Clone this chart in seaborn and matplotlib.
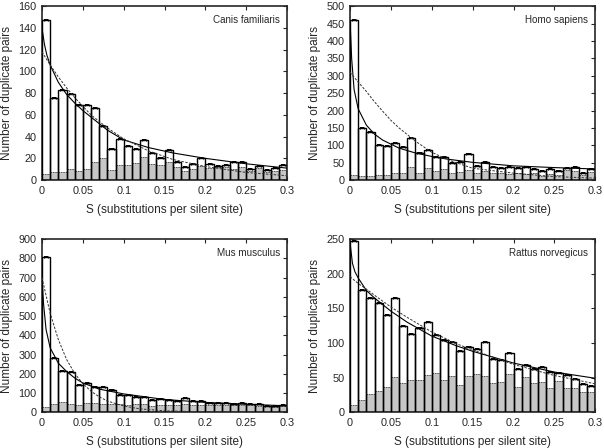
import numpy as np
import pandas as pd
import matplotlib
matplotlib.use("Agg")
import matplotlib.pyplot as plt
import seaborn as sns

# ==========================================
# Data
# ==========================================

# histogram bins of S (width 0.01, 0 .. 0.3)
s_edges = [round(0.01 * k, 2) for k in range(31)]
s_mid = [round(0.005 + 0.01 * k, 3) for k in range(30)]

species = ["Canis familiaris", "Homo sapiens", "Mus musculus", "Rattus norvegicus"]
y_max = [160, 500, 900, 250]
y_step = [20, 50, 100, 50]

# all duplicate pairs (white bars)
canis_all = [147, 76, 83, 79, 69, 69, 66, 50, 29, 38, 31, 29, 37, 25, 20,
             28, 17, 12, 15, 20, 15, 13, 14, 17, 17, 10, 13, 9, 11, 14]
homo_all = [460, 150, 137, 101, 98, 106, 94, 120, 79, 87, 65, 67, 50, 52, 74,
            41, 53, 39, 34, 38, 36, 38, 32, 26, 31, 27, 34, 37, 21, 31]
mus_all = [805, 281, 215, 207, 143, 150, 133, 129, 117, 91, 88, 81, 79, 64, 67,
           62, 57, 74, 59, 57, 50, 47, 48, 45, 47, 43, 45, 33, 30, 36]
rattus_all = [247, 176, 165, 158, 141, 165, 124, 113, 122, 131, 112, 104, 102, 88, 94,
              91, 102, 77, 75, 86, 62, 68, 62, 65, 58, 56, 54, 48, 41, 38]

# subset (grey bars)
canis_sub = [6, 7, 7, 10, 8, 10, 17, 20, 9, 14, 14, 16, 21, 15, 14,
             17, 12, 8, 10, 13, 11, 12, 12, 10, 12, 8, 11, 7, 8, 9]
homo_sub = [16, 12, 12, 14, 16, 20, 20, 37, 20, 34, 26, 32, 20, 24, 30,
            20, 25, 20, 20, 18, 20, 18, 20, 12, 18, 15, 28, 25, 15, 22]
mus_sub = [25, 40, 55, 40, 35, 48, 50, 45, 40, 45, 35, 40, 40, 30, 35,
           35, 35, 40, 35, 35, 35, 35, 35, 35, 35, 35, 30, 30, 25, 30]
rattus_sub = [10, 18, 26, 30, 36, 51, 42, 47, 46, 54, 56, 46, 52, 39, 52,
              55, 52, 42, 43, 55, 36, 51, 42, 43, 35, 45, 35, 35, 29, 29]

# fitted curves (solid and dashed)
canis_solid_s = [0, 0.003, 0.006, 0.01, 0.02, 0.03, 0.04, 0.05, 0.06, 0.08, 0.1, 0.13, 0.16, 0.2, 0.25, 0.3]
canis_solid_y = [140, 125, 115, 106, 90, 79, 71, 64, 58, 46, 37, 30, 25, 20, 15, 11]
canis_dash_s = [0, 0.01, 0.02, 0.03, 0.04, 0.05, 0.06, 0.08, 0.1, 0.13, 0.16, 0.2, 0.25, 0.3]
canis_dash_y = [118, 106, 95, 85, 76, 68, 60, 48, 38, 27, 19, 12.5, 7, 4]

homo_solid_s = [0, 0.002, 0.005, 0.01, 0.02, 0.03, 0.04, 0.06, 0.08, 0.1, 0.12, 0.15, 0.2, 0.25, 0.3]
homo_solid_y = [460, 350, 260, 205, 158, 132, 115, 92, 78, 68, 60, 51, 41, 36, 32]
homo_dash_s = [0, 0.01, 0.02, 0.03, 0.04, 0.05, 0.06, 0.08, 0.1, 0.12, 0.15, 0.2, 0.25, 0.3]
homo_dash_y = [310, 282, 255, 225, 198, 172, 150, 112, 80, 58, 34, 20, 10, 5.5]

mus_solid_s = [0, 0.002, 0.005, 0.01, 0.02, 0.03, 0.04, 0.05, 0.07, 0.1, 0.15, 0.2, 0.25, 0.3]
mus_solid_y = [700, 560, 430, 335, 255, 212, 178, 152, 120, 95, 66, 51, 41, 33]
mus_dash_s = [0, 0.01, 0.02, 0.03, 0.04, 0.05, 0.06, 0.07, 0.08, 0.1, 0.12, 0.15, 0.2, 0.3]
mus_dash_y = [700, 515, 378, 275, 202, 148, 109, 80, 58, 32, 17, 7, 1.5, 0]

rattus_solid_s = [0, 0.003, 0.006, 0.01, 0.02, 0.03, 0.05, 0.07, 0.1, 0.13, 0.15, 0.2, 0.25, 0.3]
rattus_solid_y = [245, 215, 203, 194, 176, 165, 146, 130, 110, 96, 88, 71, 58, 49]
rattus_dash_s = [0, 0.01, 0.02, 0.03, 0.05, 0.07, 0.1, 0.13, 0.15, 0.2, 0.25, 0.3]
rattus_dash_y = [196, 186, 178, 169, 152, 137, 116, 99, 90, 69, 53, 41]

all_counts = [canis_all, homo_all, mus_all, rattus_all]
sub_counts = [canis_sub, homo_sub, mus_sub, rattus_sub]
solid_curves = [(canis_solid_s, canis_solid_y), (homo_solid_s, homo_solid_y),
                (mus_solid_s, mus_solid_y), (rattus_solid_s, rattus_solid_y)]
dash_curves = [(canis_dash_s, canis_dash_y), (homo_dash_s, homo_dash_y),
               (mus_dash_s, mus_dash_y), (rattus_dash_s, rattus_dash_y)]

# ==========================================
# Style
# ==========================================
sns.set_theme(style="ticks")
plt.rcParams["font.family"] = ["Liberation Sans", "DejaVu Sans"]
plt.rcParams.update({
    "font.size": 8,
    "axes.linewidth": 1.2,
    "xtick.direction": "in",
    "ytick.direction": "in",
    "xtick.major.size": 3,
    "ytick.major.size": 3,
})

fig = plt.figure(figsize=(6.04, 4.48), dpi=100)
# axes boxes in figure fractions (left, bottom, width, height)
boxes = [
    (0.0695, 0.598, 0.406, 0.388),
    (0.5795, 0.598, 0.406, 0.388),
    (0.0695, 0.080, 0.406, 0.386),
    (0.5795, 0.080, 0.406, 0.386),
]

for i, name in enumerate(species):
    ax = fig.add_axes(boxes[i])
    df = pd.DataFrame({"S": s_mid, "total": all_counts[i], "sub": sub_counts[i]})

    # white bars (fill only)
    sns.histplot(data=df, x="S", weights="total", bins=s_edges, ax=ax, color="white",
                 edgecolor="none", linewidth=0, alpha=1, zorder=1)
    # grey subset bars
    sns.histplot(data=df, x="S", weights="sub", bins=s_edges, ax=ax, color="#c6c6c6",
                 edgecolor="none", linewidth=0, alpha=1, zorder=2)
    ax.hlines(df["sub"], s_edges[:-1], s_edges[1:], colors="#555555",
              linestyles=(0, (1.5, 1)), linewidth=0.7, zorder=3)
    # black outlines of the white bars
    sns.histplot(data=df, x="S", weights="total", bins=s_edges, ax=ax, fill=False,
                 color="black", linewidth=1.0, zorder=4)
    # small error marks at the bar tops
    ax.errorbar(df["S"], df["total"], xerr=0.0025, fmt="none", ecolor="black",
                elinewidth=1.4, capsize=1, capthick=0.8, zorder=5)

    # fitted curves
    sns.lineplot(x=solid_curves[i][0], y=solid_curves[i][1], ax=ax, color="black",
                 linewidth=0.8, zorder=6)
    sns.lineplot(x=dash_curves[i][0], y=dash_curves[i][1], ax=ax, color="#333333",
                 linewidth=0.7, linestyle=(0, (2.5, 1.5)), zorder=6)

    ax.set_xlim(0, 0.3)
    ax.set_ylim(0, y_max[i])
    ax.set_xticks([0, 0.05, 0.1, 0.15, 0.2, 0.25, 0.3])
    ax.set_xticklabels(["0", "0.05", "0.1", "0.15", "0.2", "0.25", "0.3"])
    ax.set_yticks(list(range(0, y_max[i] + 1, y_step[i])))
    ax.tick_params(top=True, right=True, labelsize=7.8, pad=4, width=0.8)
    for sp in ax.spines.values():
        sp.set_visible(True)
        sp.set_linewidth(1.2)
    ax.set_xlabel("S (substitutions per silent site)", fontsize=8.5, labelpad=6)
    ax.set_ylabel("Number of duplicate pairs", fontsize=8.5, labelpad=4)
    ax.text(0.97, 0.95, name, transform=ax.transAxes, ha="right", va="top",
            fontsize=7.1)

fig.savefig("out.png", dpi=100)
